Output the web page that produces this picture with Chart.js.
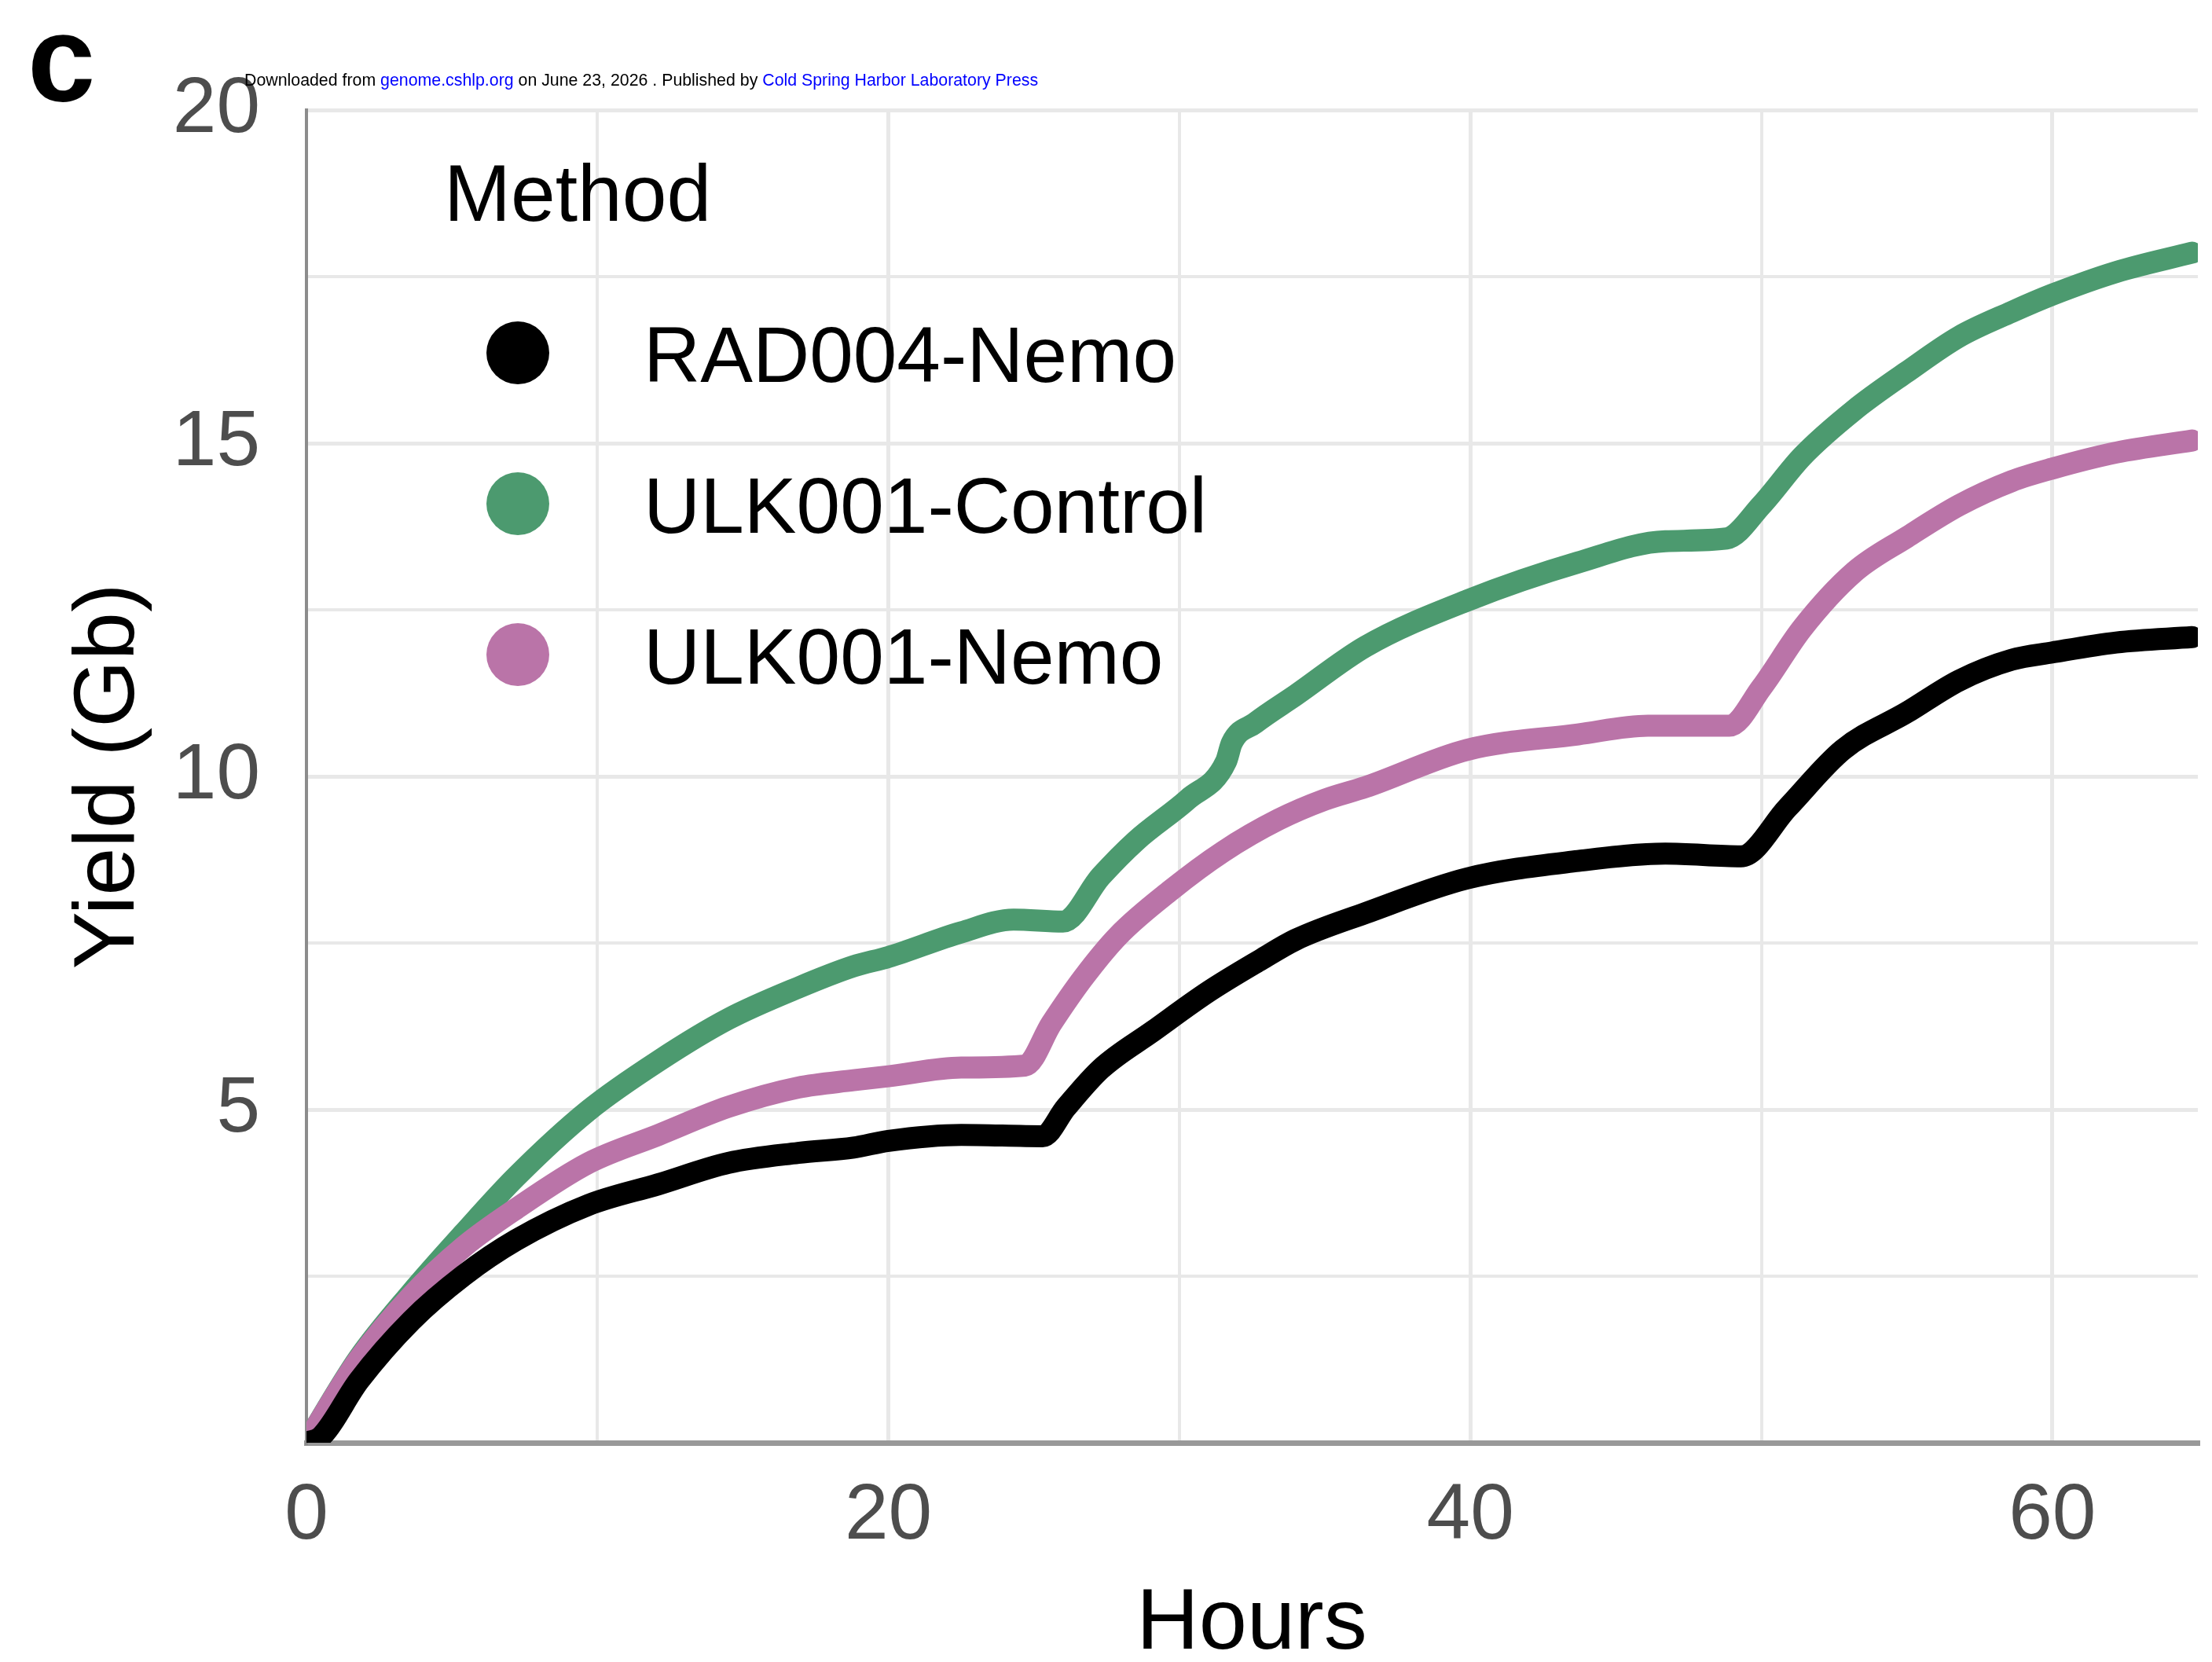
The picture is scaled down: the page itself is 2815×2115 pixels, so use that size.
<!DOCTYPE html>
<html lang="en">
<head>
<meta charset="UTF-8">
<title>Yield over time</title>
<script src="https://cdn.jsdelivr.net/npm/chart.js@4.4.0/dist/chart.umd.min.js"></script>
<style>
    html, body {
        margin: 0;
        padding: 0;
        background: #ffffff;
    }
    #wrap {
        width: 2815px;
        height: 2115px;
    }
</style>
</head>
<body>
<div id="wrap"><canvas id="yieldChart" width="2815" height="2115"></canvas></div>

<script>
    // series names and colours
    const methods = ['RAD004-Nemo', 'ULK001-Control', 'ULK001-Nemo'];
    const methodColors = ['#000000', '#4C9A6F', '#BA74A8'];

    // RAD004-Nemo
    const radNemoHours = [0, 0.5, 1.8, 3.6, 5.4, 7.2, 9.7, 12.1, 14.5, 16.9, 18.8, 20.0, 22.5, 25.3, 26.1, 27.3, 29.1, 31.0, 32.8, 34.0, 36.4, 39.9, 43.7, 46.7, 49.3, 50.9, 52.8, 55.0, 56.8, 58.6, 60.0, 62.2, 64.8];
    const radNemoYield = [0, 0.09, 0.93, 1.83, 2.51, 3.04, 3.57, 3.88, 4.20, 4.35, 4.43, 4.53, 4.62, 4.60, 5.03, 5.61, 6.18, 6.77, 7.25, 7.55, 7.95, 8.47, 8.73, 8.84, 8.80, 9.53, 10.40, 10.96, 11.44, 11.75, 11.86, 12.01, 12.09];

    // ULK001-Control
    const ulkControlHours = [0, 1.8, 3.6, 5.4, 7.2, 9.7, 12.1, 14.5, 16.9, 18.8, 20.0, 22.5, 24.3, 26.0, 27.3, 28.5, 30.3, 31.6, 31.8, 32.6, 34.0, 36.4, 39.9, 43.7, 46.7, 48.8, 50.0, 51.4, 53.2, 55.0, 56.8, 58.6, 60.0, 62.2, 64.8];
    const ulkControlYield = [0, 1.27, 2.25, 3.14, 3.99, 4.99, 5.73, 6.36, 6.83, 7.15, 7.29, 7.66, 7.85, 7.82, 8.50, 9.03, 9.66, 10.22, 10.50, 10.80, 11.22, 11.95, 12.64, 13.21, 13.53, 13.57, 14.07, 14.80, 15.50, 16.07, 16.60, 16.97, 17.23, 17.57, 17.86];

    // ULK001-Nemo
    const ulkNemoHours = [0, 1.8, 3.6, 5.4, 7.2, 9.7, 12.1, 14.5, 16.9, 18.8, 20.0, 22.5, 24.7, 25.6, 26.7, 27.9, 29.7, 31.5, 33.4, 35.0, 36.4, 39.9, 43.7, 46.1, 48.9, 50.0, 51.4, 53.2, 55.0, 56.8, 58.6, 60.0, 62.2, 64.8];
    const ulkNemoYield = [0, 1.25, 2.20, 2.94, 3.51, 4.20, 4.62, 5.04, 5.33, 5.44, 5.50, 5.63, 5.66, 6.29, 6.98, 7.61, 8.29, 8.87, 9.35, 9.65, 9.84, 10.40, 10.63, 10.76, 10.76, 11.33, 12.22, 13.07, 13.59, 14.07, 14.43, 14.62, 14.86, 15.04];

    const xTickLabels = [0, 20, 40, 60];
    const yTickLabels = [5, 10, 15, 20];
    const xTitle = 'Hours';
    const yTitle = 'Yield (Gb)';
    const legendTitle = 'Method';

    const family = '"Liberation Sans", Arial, Helvetica, sans-serif';

    function toPoints(hours, values) {
        return hours.map((h, i) => ({ x: h, y: values[i] }));
    }

    function gridColor(ctx) {
        if (!ctx.tick || ctx.tick.value === 0) return 'rgba(0,0,0,0)';
        return '#e8e8e8';
    }

    // extra texts and the in-plot legend
    const overlayPlugin = {
        id: 'overlay',
        afterDraw(chart) {
            const ctx = chart.ctx;
            ctx.save();

            // panel letter
            ctx.fillStyle = '#000';
            ctx.textBaseline = 'alphabetic';
            ctx.textAlign = 'left';
            ctx.font = 'bold 155px ' + family;
            ctx.fillText('c', 35, 128);

            // download note
            const parts = [
                ['Downloaded from ', '#000000'],
                ['genome.cshlp.org', '#0000ff'],
                [' on June 23, 2026 . Published by ', '#000000'],
                ['Cold Spring Harbor Laboratory Press', '#0000ff']
            ];
            ctx.font = '20px ' + family;
            let total = 0;
            parts.forEach(p => { total += ctx.measureText(p[0]).width; });
            const noteSize = 20 * 1010 / total;
            ctx.font = noteSize.toFixed(2) + 'px ' + family;
            let nx = 311;
            parts.forEach(p => {
                ctx.fillStyle = p[1];
                ctx.fillText(p[0], nx, 109);
                nx += ctx.measureText(p[0]).width;
            });

            // axis titles
            ctx.fillStyle = '#000';
            ctx.font = '110px ' + family;
            ctx.textAlign = 'center';
            ctx.fillText(xTitle, 1593, 2098);
            ctx.save();
            ctx.translate(170, 988);
            ctx.rotate(-Math.PI / 2);
            ctx.fillText(yTitle, 0, 0);
            ctx.restore();

            // legend
            ctx.textAlign = 'left';
            ctx.font = '102px ' + family;
            ctx.fillText(legendTitle, 565, 281);
            ctx.font = '100px ' + family;
            const rows = [449, 641, 833];
            methods.forEach((name, i) => {
                ctx.beginPath();
                ctx.fillStyle = methodColors[i];
                ctx.arc(659, rows[i], 40, 0, Math.PI * 2);
                ctx.fill();
                ctx.fillStyle = '#000';
                ctx.fillText(name, 819, rows[i] + 37);
            });

            ctx.restore();
        }
    };

    const seriesData = [
        toPoints(radNemoHours, radNemoYield),
        toPoints(ulkControlHours, ulkControlYield),
        toPoints(ulkNemoHours, ulkNemoYield)
    ];
    // black on top, then pink, then green
    const drawOrder = [0, 2, 1];

    new Chart(document.getElementById('yieldChart'), {
        type: 'line',
        data: {
            datasets: methods.map((name, i) => ({
                label: name,
                data: seriesData[i],
                borderColor: methodColors[i],
                backgroundColor: methodColors[i],
                borderWidth: 28,
                borderJoinStyle: 'round',
                borderCapStyle: 'round',
                cubicInterpolationMode: 'monotone',
                pointRadius: 0,
                pointHoverRadius: 0,
                fill: false,
                order: drawOrder[i]
            }))
        },
        options: {
            responsive: false,
            animation: false,
            devicePixelRatio: 1,
            layout: {
                padding: { top: 140, right: 18, left: 0, bottom: 0 }
            },
            plugins: {
                legend: { display: false },
                tooltip: { enabled: false }
            },
            scales: {
                x: {
                    type: 'linear',
                    min: 0,
                    max: 65,
                    afterBuildTicks: s => { s.ticks = s.ticks.filter(t => t.value % 10 === 0); },
                    afterFit: s => { s.height = 279; },
                    ticks: {
                        stepSize: 10,
                        autoSkip: false,
                        maxRotation: 0,
                        padding: 34,
                        color: '#4d4d4d',
                        font: { family: family, size: 100 },
                        callback: v => xTickLabels.includes(v) ? String(v) : ''
                    },
                    grid: {
                        drawTicks: false,
                        color: gridColor,
                        lineWidth: ctx => (ctx.tick && ctx.tick.value % 20 === 0) ? 5 : 4
                    },
                    border: { color: '#999999', width: 7 }
                },
                y: {
                    min: 0,
                    max: 20,
                    afterBuildTicks: s => {
                        s.ticks = [];
                        for (let v = 0; v <= 20; v += 2.5) s.ticks.push({ value: v });
                    },
                    afterFit: s => { s.width = 390; },
                    ticks: {
                        autoSkip: false,
                        padding: 59,
                        color: '#4d4d4d',
                        font: { family: family, size: 100 },
                        callback: v => yTickLabels.includes(v) ? String(v) : ''
                    },
                    grid: {
                        drawTicks: false,
                        color: gridColor,
                        lineWidth: ctx => (ctx.tick && ctx.tick.value % 5 === 0) ? 5 : 4
                    },
                    border: { color: '#8c8c8c', width: 4 }
                }
            }
        },
        plugins: [overlayPlugin]
    });
</script>
</body>
</html>
